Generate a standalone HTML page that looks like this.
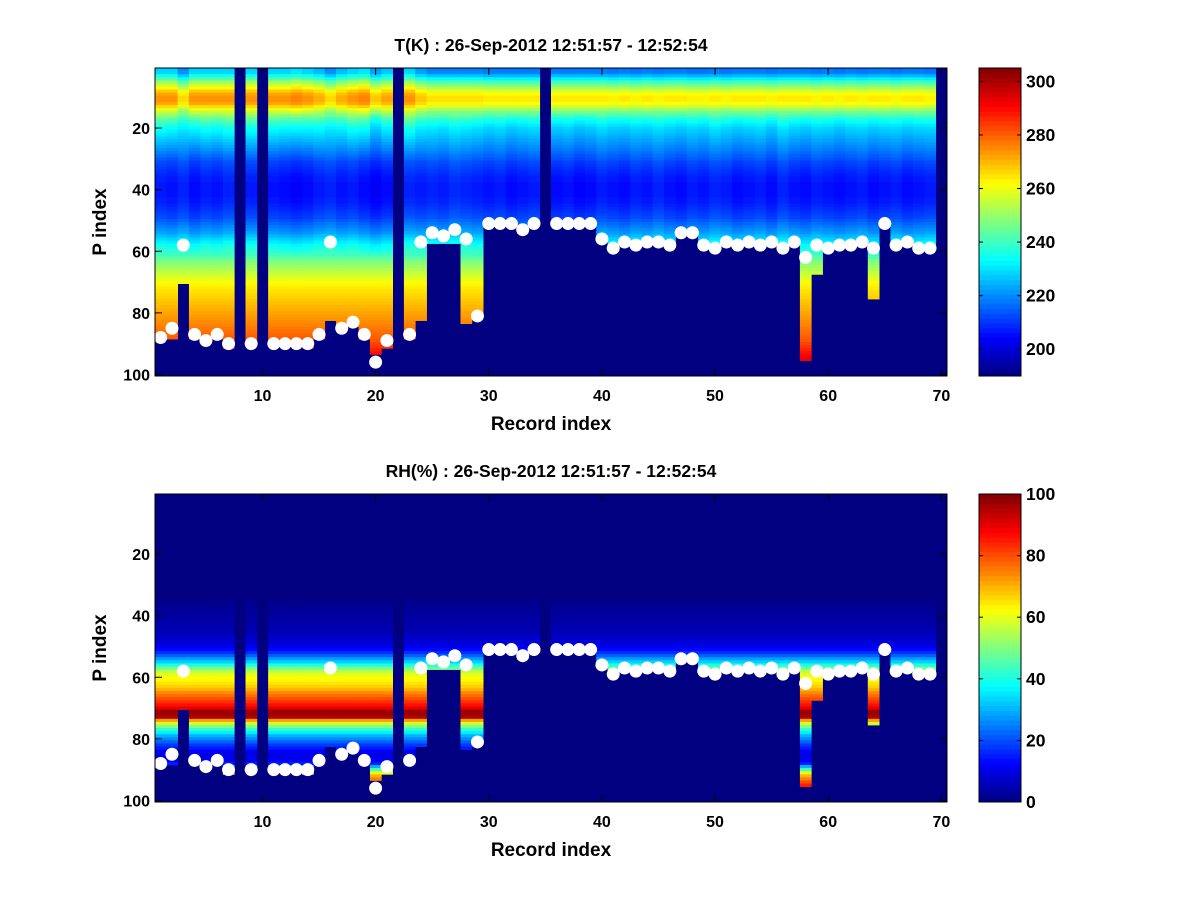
<!DOCTYPE html>
<html><head><meta charset="utf-8">
<style>
body{margin:0;background:#fff;}
svg{display:block;font-family:"Liberation Sans",Arial,sans-serif;font-weight:bold;}
</style></head>
<body>
<svg id="fig" width="1200" height="900" viewBox="0 0 1200 900">
<rect x="0" y="0" width="1200" height="900" fill="#fff"/>
<g id="top"></g>
<g id="bot"></g>
</svg>
<script>
// ---- data ----
const records = Array.from({length:70},(_,i)=>i+1);
const xTicks = [10,20,30,40,50,60,70];
const yTicks = [20,40,60,80,100];
const tTicks = [200,220,240,260,280,300];
const rhTicks = [0,20,40,60,80,100];
// last valid P index per record (0 = missing record)
const bottomIdx = [88,88,70,88,88,88,91,0,90,0,90,90,90,91,88,82,84,84,88,93,
91,0,88,82,57,57,57,83,80,51,51,51,52,51,0,51,51,51,51,56,
59,57,58,57,57,58,54,54,58,59,57,58,57,58,57,59,57,95,67,59,
58,58,57,75,51,58,57,59,59,0];
// surface marker P index per record (0 = none)
const markerIdx = [88,85,58,87,89,87,90,0,90,0,90,90,90,90,87,57,85,83,87,96,
89,0,87,57,54,55,53,56,81,51,51,51,53,51,0,51,51,51,51,56,
59,57,58,57,57,58,54,54,58,59,57,58,57,58,57,59,57,62,58,59,
58,58,57,59,51,58,57,59,59,0];
// base temperature profile (K), P index 1..100
const baseT = [228,229,235,242,250,256,262,268,272,274,274,272,266,260,254,248,243,239,236,233,
231,229,227,225,223,221,219,217,215,213,211,210,209,208,207,206,206,205,205,205,
205,205,206,206,207,208,209,210,211,213,215,217,219,221,224,227,230,233,235,237,
240,243,246,249,251,253,255,257,259,261,263,264,265,266,267,268,269,270,271,272,
273,274,275,276,277,278,279,280,281,283,285,287,289,291,293,295,296,297,298,299];
// per-record offset of upper warm band (K)
const bandT = [0,0,-8,0,0,0,0,0,0,0,0,0,2,0,-3,-8,-3,0,2,-6,
-2,0,0,-6,-9,-9,-9,-9,-9,-10,-10,-10,-10,-10,0,-10,-10,-10,-10,-10,
-11,-10,-11,-10,-11,-10,-10,-11,-11,-10,-11,-10,-10,-10,-11,-10,-10,-10,-11,-10,
-11,-10,-11,-10,-10,-11,-10,-10,-11,0];
// per-record offset of mid-level temperature (K)
const midT = [2,1,3,0,2,1,3,0,2,0,1,0,-1,0,2,3,1,2,0,-2,
0,0,3,2,3,2,4,3,2,1,2,0,1,2,0,0,1,-1,0,2,
1,0,2,1,3,1,0,2,1,3,2,0,1,2,0,3,1,0,2,1,
0,1,2,0,1,2,0,1,2,0];
// base relative humidity profile (%), P index 1..100
const baseRH = [0,0,0,0,0,0,0,0,0,0,0,0,0,0,0,0,0,0,0,0,
0,0,0,0,0,0,0,0,0,0,0,0,0,0,1,1,2,2,3,3,
3,4,4,5,5,6,7,8,9,11,13,17,22,28,33,40,48,55,60,62,
63,65,67,70,74,77,80,83,86,90,97,97,95,72,58,50,42,36,30,26,
22,18,15,12,10,10,12,15,30,45,60,70,75,80,85,85,85,85,85,85];
// ---- drawing ----
const NS="http://www.w3.org/2000/svg";
function mk(tag,attrs,parent){const e=document.createElementNS(NS,tag);for(const k in attrs)e.setAttribute(k,attrs[k]);parent.appendChild(e);return e;}
function jet(t){t=Math.max(0,Math.min(1,t));const c=v=>Math.round(255*Math.max(0,Math.min(1,v)));
return `rgb(${c(1.5-Math.abs(4*t-3))},${c(1.5-Math.abs(4*t-2))},${c(1.5-Math.abs(4*t-1))})`;}
const L=155,R=947,cbL=979,cbR=1021;
const cw=(R-L)/70;
function panel(g,top,bot,title,valueFn,cmin,cmax,cticks){
  const ch=(bot-top)/100;
  const xC=r=>L+(r-0.5)*cw;
  const yP=p=>top+(p-1)*ch;
  const yC=p=>top+(p-0.5)*ch;
  const cells=mk('g',{},g);
  
  
  const navy=jet(0);
  mk('rect',{x:L,y:top,width:R-L,height:bot-top,fill:navy},cells);
  records.forEach((r,i)=>{
    const b=bottomIdx[i];
    for(let p=1;p<=b;p++){
      const v=valueFn(i,p);
      const e=mk('rect',{x:(L+(r-1)*cw).toFixed(2),y:yP(p).toFixed(2),width:(cw+0.4).toFixed(2),height:(ch+0.4).toFixed(2),fill:jet((v-cmin)/(cmax-cmin))},cells);
      
      
    }
  });
  records.forEach((r,i)=>{
    const m=markerIdx[i]; if(!m)return;
    const c=mk('circle',{cx:xC(r).toFixed(2),cy:yC(m).toFixed(2),r:6.5,fill:'#fff'},g);
    
    
  });
  const box=mk('rect',{x:L,y:top,width:R-L,height:bot-top,fill:'none',stroke:'#000','stroke-width':1},g);
  
  
  xTicks.forEach(t=>{const x=xC(t);
    mk('line',{x1:x,y1:bot,x2:x,y2:bot-7,stroke:'#000'},g);
    mk('line',{x1:x,y1:top,x2:x,y2:top+7,stroke:'#000'},g);
    const tx=mk('text',{x:x,y:bot+25,'text-anchor':'middle','font-size':16},g);tx.textContent=t;
    
    
  });
  yTicks.forEach(t=>{const y=yC(t);
    mk('line',{x1:L,y1:y,x2:L+7,y2:y,stroke:'#000'},g);
    mk('line',{x1:R,y1:y,x2:R-7,y2:y,stroke:'#000'},g);
    const tx=mk('text',{x:L-5,y:y+6,'text-anchor':'end','font-size':16},g);tx.textContent=t;
    
    
  });
  const tt=mk('text',{x:551,y:top-17,'text-anchor':'middle','font-size':17.5},g);tt.textContent=title;
  
  
  const xl=mk('text',{x:551,y:bot+54,'text-anchor':'middle','font-size':19},g);xl.textContent='Record index';
  
  
  const yl=mk('text',{x:0,y:0,'text-anchor':'middle','font-size':19,transform:`translate(106,${(top+bot)/2}) rotate(-90)`},g);yl.textContent='P index';
  
  
  // colorbar
  const cb=mk('g',{},g);
  
  
  const n=64,h=(bot-top)/n;
  for(let k=0;k<n;k++){mk('rect',{x:cbL,y:(bot-(k+1)*h).toFixed(2),width:cbR-cbL,height:(h+0.4).toFixed(2),fill:jet((k+0.5)/n)},cb);}
  mk('rect',{x:cbL,y:top,width:cbR-cbL,height:bot-top,fill:'none',stroke:'#000'},cb);
  cticks.forEach(t=>{const y=bot-(t-cmin)/(cmax-cmin)*(bot-top);
    mk('line',{x1:cbL,y1:y,x2:cbL+4,y2:y,stroke:'#000'},cb);
    mk('line',{x1:cbR,y1:y,x2:cbR-4,y2:y,stroke:'#000'},cb);
    const tx=mk('text',{x:cbR+5,y:y+6,'font-size':17.5},cb);tx.textContent=t;
    
    
  });
}
panel(document.getElementById('top'),68,376,'T(K) : 26-Sep-2012 12:51:57 - 12:52:54',
  (i,p)=>baseT[p-1]+(p<=30?bandT[i]*(1-Math.max(0,p-12)/18):0)+(p>15&&p<=60?midT[i]:0),190,305,tTicks);
panel(document.getElementById('bot'),494,802,'RH(%) : 26-Sep-2012 12:51:57 - 12:52:54',
  (i,p)=>baseRH[p-1],0,100,rhTicks);
</script>
</body></html>
